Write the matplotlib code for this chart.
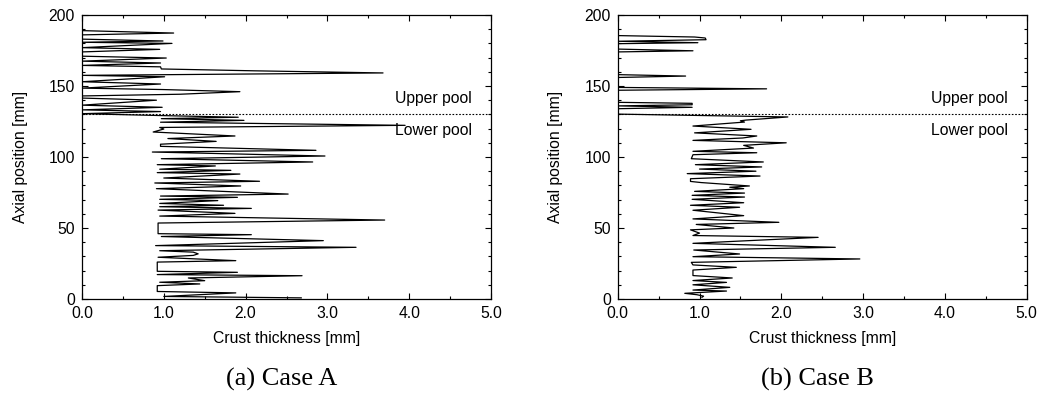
import matplotlib
matplotlib.use("Agg")
import matplotlib.pyplot as plt
from matplotlib.ticker import MultipleLocator, FormatStrFormatter

plt.rcParams['font.family'] = ['Liberation Sans', 'DejaVu Sans']
FS = 11.3

# Case A: axial position [mm] and crust thickness [mm], bottom to top
case_a_y = [0.8, 1.8, 4.3, 5.3, 9.4, 10.6, 11.8, 12.9, 14.8, 16.4, 17.2, 18.8, 19.5,
            26.0, 27.0, 29.4, 30.7, 31.8, 33.0, 34.0, 36.4, 37.6, 41.1, 44.0, 45.3,
            46.0, 53.5, 55.6, 58.4, 60.3, 62.6, 63.8, 65.0, 66.0, 67.3, 69.3, 70.2,
            71.6, 72.5, 73.9, 77.7, 79.6, 81.7, 82.9, 85.2, 88.0, 89.0, 90.6, 91.4,
            93.7, 94.6, 96.5, 98.8, 100.7, 103.5, 104.7, 107.5, 109.0, 111.0, 113.0,
            114.8, 117.6, 119.7, 120.8, 122.3, 124.5, 125.8, 127.0, 128.0, 129.2,
            130.5, 132.0, 133.2, 135.0, 136.5, 140.0, 141.5, 143.0, 144.2, 146.0,
            147.5, 148.5, 151.4, 153.0, 156.5, 157.5, 159.2, 160.7, 162.0, 163.5,
            164.5, 166.2, 167.5, 169.7, 171.0, 174.0, 175.8, 177.0, 180.0, 180.8,
            181.7, 183.0, 186.0, 187.3, 189.0, 190.0]
case_a_x = [2.68, 1.00, 1.88, 0.92, 0.92, 1.44, 0.95, 1.50, 1.30, 2.69, 0.92, 1.90, 0.92,
            0.92, 1.88, 0.93, 1.36, 1.42, 1.36, 0.95, 3.35, 0.90, 2.95, 0.97, 2.07,
            0.93, 0.93, 3.70, 0.95, 1.87, 0.93, 2.07, 0.95, 1.73, 0.95, 1.66, 0.95,
            1.90, 0.96, 2.52, 0.91, 1.94, 0.89, 2.17, 1.00, 1.93, 0.92, 1.82, 0.95,
            1.63, 0.92, 2.82, 0.97, 2.97, 0.86, 2.86, 0.96, 0.96, 1.64, 1.05,
            1.87, 0.87, 1.00, 0.95, 3.95, 0.96, 1.98, 0.97, 1.91, 0.95,
            0.00, 0.96, 0.00, 0.98, 0.00, 0.91, 0.00, 0.00, 1.20, 1.93,
            0.99, 0.00, 0.96, 0.00, 1.01, 0.00, 3.68, 2.10, 0.97, 0.96,
            0.00, 0.96, 0.00, 1.03, 0.00, 0.00, 0.95, 0.00, 1.10, 0.00,
            0.99, 0.00, 0.00, 1.12, 0.00, 0.00]

# Case B
case_b_y = [1.2, 2.0, 3.0, 4.0, 5.6, 6.3, 8.2, 10.0, 11.7, 13.0, 14.8, 16.5, 20.4,
            22.3, 24.0, 25.8, 28.2, 29.8, 31.7, 34.5, 36.4, 39.2, 40.6, 43.4, 44.7,
            46.4, 48.7, 50.0, 52.5, 54.0, 56.4, 58.7, 62.5, 64.6, 66.0, 67.8, 70.2,
            71.8, 73.0, 74.6, 75.8, 77.7, 78.7, 79.6, 82.0, 82.8, 84.7, 86.6, 88.3,
            90.0, 91.5, 93.0, 94.6, 96.5, 98.8, 101.6, 103.0, 104.0, 106.3, 108.2,
            110.0, 111.7, 113.4, 114.8, 117.0, 119.5, 121.8, 124.6, 125.5, 126.0,
            128.2, 130.2, 134.0, 135.0, 136.0, 136.8, 137.8, 138.5, 147.0, 148.0,
            149.0, 156.0, 157.0, 158.0, 174.0, 174.8, 176.0, 179.8, 180.5, 181.5,
            182.6, 183.8, 184.5, 185.5]
case_b_x = [1.03, 1.05, 0.97, 0.82, 1.33, 0.92, 1.37, 0.92, 1.33, 0.92, 1.40, 0.92, 0.92,
            1.45, 0.92, 0.90, 2.96, 0.92, 1.49, 0.93, 2.66, 0.92, 1.42, 2.45, 0.92,
            1.00, 0.89, 1.42, 0.96, 1.97, 0.92, 1.54, 0.92, 1.49, 0.89, 1.54, 0.91,
            1.55, 0.91, 1.55, 0.94, 1.54, 1.37, 1.61, 1.02, 0.89, 0.89, 1.74, 0.85,
            1.69, 1.00, 1.76, 0.95, 1.78, 0.90, 0.92, 1.70, 0.92, 1.66, 1.54,
            2.06, 0.92, 1.53, 1.70, 0.94, 1.63, 0.92, 1.55, 1.50, 1.57,
            2.08, 0.00, 0.00, 0.91, 0.00, 0.91, 0.91, 0.00, 0.00, 1.82,
            0.00, 0.00, 0.83, 0.00, 0.00, 0.92, 0.00, 0.00, 0.98, 0.00,
            1.08, 1.07, 0.94, 0.00]

panels = [(case_a_x, case_a_y, "(a) Case A"),
          (case_b_x, case_b_y, "(b) Case B")]
POOL_LEVEL = 130

fig = plt.figure(figsize=(10.4, 3.94), dpi=100)
lefts = [82 / 1040, 617.7 / 1040]

for left, (xs, ys, caption) in zip(lefts, panels):
    ax = fig.add_axes([left, 1 - 299 / 394, 409 / 1040, 284 / 394])
    ax.plot(xs, ys, color="black", lw=0.9)
    ax.axhline(POOL_LEVEL, color="black", lw=0.8, ls=(0, (1.5, 1.5)))
    ax.text(4.77, 141, "Upper pool", ha="right", va="center", fontsize=FS)
    ax.text(3.83, 119, "Lower pool", ha="left", va="center", fontsize=FS)

    ax.set_xlim(0, 5)
    ax.set_ylim(0, 200)
    ax.xaxis.set_major_locator(MultipleLocator(1))
    ax.xaxis.set_minor_locator(MultipleLocator(0.5))
    ax.yaxis.set_major_locator(MultipleLocator(50))
    ax.yaxis.set_minor_locator(MultipleLocator(10))
    ax.xaxis.set_major_formatter(FormatStrFormatter("%.1f"))
    ax.tick_params(which="both", direction="in", top=True, right=True,
                   labelsize=FS, width=0.8)
    ax.tick_params(which="major", length=4, pad=5)
    ax.tick_params(which="minor", length=2)
    for sp in ax.spines.values():
        sp.set_linewidth(0.9)

    ax.set_xlabel("Crust thickness [mm]", fontsize=FS, labelpad=7)
    ax.set_ylabel("Axial position [mm]", fontsize=FS, labelpad=15)

    cx = left + 409 / 1040 / 2 - 5 / 1040
    fig.text(cx, 1 - 379 / 394, caption, ha="center", va="center",
             fontsize=19, family=["Liberation Serif", "DejaVu Serif"])

fig.savefig("out.png", dpi=100)
